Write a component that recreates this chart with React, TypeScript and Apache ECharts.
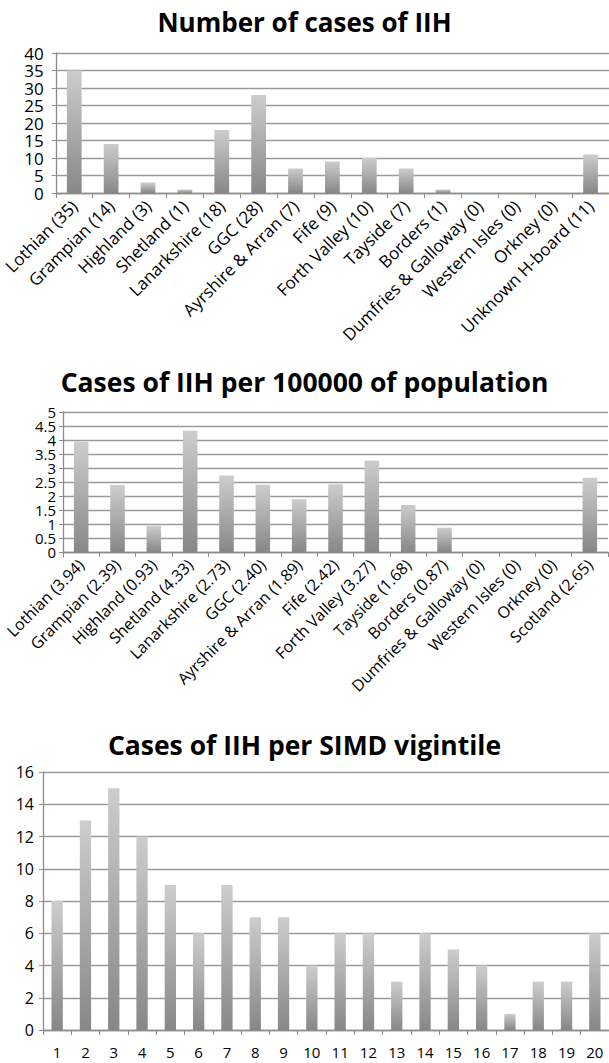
import React, { useEffect, useRef } from "react";
import * as echarts from "echarts";

const titles = [
  "Number of cases of IIH",
  "Cases of IIH per 100000 of population",
  "Cases of IIH per SIMD vigintile",
];

const boardCategories = [
  "Lothian (35)", "Grampian (14)", "Highland (3)", "Shetland (1)", "Lanarkshire (18)",
  "GGC (28)", "Ayrshire & Arran (7)", "Fife (9)", "Forth Valley (10)", "Tayside (7)",
  "Borders (1)", "Dumfries & Galloway (0)", "Western Isles (0)", "Orkney (0)", "Unknown H-board (11)",
];
const boardCases = [35, 14, 3, 1, 18, 28, 7, 9, 10, 7, 1, 0, 0, 0, 11];

const rateCategories = [
  "Lothian (3.94)", "Grampian (2.39)", "Highland (0.93)", "Shetland (4.33)", "Lanarkshire (2.73)",
  "GGC (2.40)", "Ayrshire & Arran (1.89)", "Fife (2.42)", "Forth Valley (3.27)", "Tayside (1.68)",
  "Borders (0.87)", "Dumfries & Galloway (0)", "Western Isles (0)", "Orkney (0)", "Scotland (2.65)",
];
const rateValues = [3.94, 2.39, 0.93, 4.33, 2.73, 2.4, 1.89, 2.42, 3.27, 1.68, 0.87, 0, 0, 0, 2.65];

const simdCategories = ["1", "2", "3", "4", "5", "6", "7", "8", "9", "10", "11", "12", "13", "14", "15", "16", "17", "18", "19", "20"];
const simdCases = [8, 13, 15, 12, 9, 6, 9, 7, 7, 4, 6, 6, 3, 6, 5, 4, 1, 3, 3, 6];

const FONT = "'Open Sans', Lato, sans-serif";

export default function App() {
  const ref = useRef<HTMLDivElement>(null);
  useEffect(() => {
    if (!ref.current) return;
    const chart = echarts.init(ref.current, null, { renderer: "svg" });
    const barColor = new echarts.graphic.LinearGradient(0, 0, 0, 1, [
      { offset: 0, color: "#cdcdcd" },
      { offset: 1, color: "#878787" },
    ]);
    const axisLine = { show: true, lineStyle: { color: "#8c8c8c", width: 1.3 } };
    const split = { show: true, lineStyle: { color: "#9a9a9a", width: 1.3 } };
    const yAxis = (idx: number, max: number, interval: number, fs: number, margin: number, formatter?: any) => ({
      type: "value",
      gridIndex: idx,
      position: "left",
      min: 0,
      max,
      interval,
      axisLine,
      axisTick: { show: true, length: 4, lineStyle: { color: "#8c8c8c" } },
      splitLine: split,
      axisLabel: {
        color: "#000", fontFamily: FONT, fontSize: fs, margin,
        showMinLabel: true, showMaxLabel: true, hideOverlap: false,
        ...(formatter ? { formatter } : {}),
      },
    });
    const xAxis = (idx: number, data: string[], rotate: number, fs: number, margin: number) => ({
      type: "category",
      gridIndex: idx,
      data,
      boundaryGap: true,
      axisLine,
      axisTick: { show: true, length: 5, alignWithLabel: false, lineStyle: { color: "#8c8c8c" } },
      axisLabel: { color: "#000", fontFamily: FONT, fontSize: fs, rotate, margin, interval: 0, hideOverlap: false },
    });
    const series = (idx: number, data: number[]) => ({
      type: "bar",
      xAxisIndex: idx,
      yAxisIndex: idx,
      data,
      barWidth: "40%",
      itemStyle: { color: barColor },
    });
    const isWhole = (v: number) => Math.abs(v - Math.round(v)) < 1e-9;
    const halfAxis = {
      ...yAxis(1, 5, 0.5, 15, 7, (v: number) => (isWhole(v) ? "" : String(v))),
      axisLine: { show: false },
      axisTick: { show: false },
      splitLine: { show: false },
    };
    const titleStyle = { fontFamily: FONT, fontWeight: "bold", fontSize: 26, color: "#000" };
    chart.setOption({
      animation: false,
      title: [
        { text: titles[0], left: "center", top: 4, textStyle: titleStyle },
        { text: titles[1], left: "center", top: 363, textStyle: { ...titleStyle, fontSize: 26.5 } },
        { text: titles[2], left: "center", top: 726, textStyle: { ...titleStyle, fontSize: 26.5 } },
      ],
      grid: [
        { left: 53, top: 53, width: 556, height: 140 },
        { left: 63, top: 412, width: 545, height: 140 },
        { left: 43, top: 772, width: 574, height: 258 },
      ],
      xAxis: [
        xAxis(0, boardCategories, 45, 17, 10),
        xAxis(1, rateCategories, 45, 16, 10),
        xAxis(2, simdCategories, 0, 15, 14),
      ],
      yAxis: [
        yAxis(0, 40, 5, 17, 12),
        yAxis(1, 5, 0.5, 15, 7, (v: number) => (isWhole(v) ? String(v) : "")),
        yAxis(2, 16, 2, 16, 9),
        halfAxis,
      ],
      series: [series(0, boardCases), series(1, rateValues), series(2, simdCases)],
    });
    return () => chart.dispose();
  }, []);
  return (
    <div
      ref={ref}
      style={{ position: "absolute", left: 0, top: 0, width: 609, height: 1063, background: "#fff" }}
    />
  );
}
